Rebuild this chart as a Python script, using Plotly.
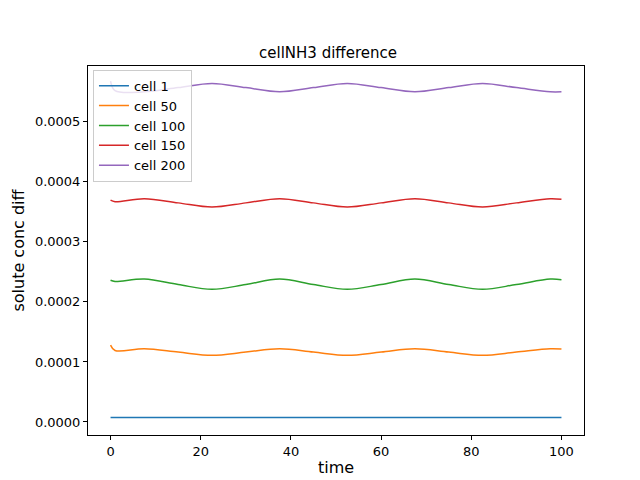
import plotly.graph_objects as go

# sample times and values
t = [0, 1, 7.5, 15, 22.5, 30, 37.5, 45, 52.5, 60, 67.5, 75, 82.5, 90, 97.5, 100]

cell1 = [0.0000075] * len(t)
cell50 = [0.000128, 0.000119, 0.000122, 0.0001165, 0.000111, 0.0001165, 0.000122, 0.0001165,
          0.000111, 0.0001165, 0.000122, 0.0001165, 0.000111, 0.0001165, 0.000122, 0.0001215]
cell100 = [0.000236, 0.000234, 0.000238, 0.000229, 0.000221, 0.000229, 0.000238, 0.000229,
           0.000221, 0.000229, 0.000238, 0.000229, 0.000221, 0.000229, 0.000238, 0.000237]
cell150 = [0.0003695, 0.000367, 0.000372, 0.000365, 0.000358, 0.000365, 0.000372, 0.000365,
           0.000358, 0.000365, 0.000372, 0.000365, 0.000358, 0.000365, 0.000372, 0.000371]
cell200 = [0.000568, 0.000552, 0.000550, 0.000557, 0.000564, 0.000557, 0.000550, 0.000557,
           0.000564, 0.000557, 0.000550, 0.000557, 0.000564, 0.000557, 0.000550, 0.000550]

names = ['cell 1', 'cell 50', 'cell 100', 'cell 150', 'cell 200']
series = [cell1, cell50, cell100, cell150, cell200]
colors = ['#1f77b4', '#ff7f0e', '#2ca02c', '#d62728', '#9467bd']

fig = go.Figure()
for name, ys, c in zip(names, series, colors):
    fig.add_trace(go.Scatter(x=t, y=ys, name=name, mode='lines',
                             line=dict(color=c, width=1.5, shape='spline', smoothing=1)))

axis = dict(showline=True, linecolor='black', linewidth=1, mirror=True, ticks='outside',
            ticklen=4, tickcolor='black', showgrid=False, zeroline=False, automargin=False,
            tickfont=dict(family='DejaVu Sans', size=13, color='black'))

fig.update_layout(
    width=640, height=480,
    margin=dict(l=80, r=64, t=58, b=53),
    plot_bgcolor='white', paper_bgcolor='white',
    font=dict(family='DejaVu Sans', size=13, color='black'),
    title=dict(text='cellNH3 difference', x=0.5, xanchor='center', y=0.895, yanchor='bottom',
               font=dict(size=15)),
    xaxis=dict(axis, range=[-5, 105], tickvals=[0, 20, 40, 60, 80, 100],
               title=dict(text='time', standoff=4)),
    yaxis=dict(axis, range=[-0.0000217, 0.000593], tickformat='.4f',
               tickvals=[0, 0.0001, 0.0002, 0.0003, 0.0004, 0.0005],
               title=dict(text='solute conc diff', standoff=6)),
    legend=dict(x=0.01, y=0.99, xanchor='left', yanchor='top', bordercolor='#cccccc',
                borderwidth=1, bgcolor='rgba(255,255,255,0.8)', font=dict(size=13),
                tracegroupgap=0),
)

fig.write_html("out.html")
